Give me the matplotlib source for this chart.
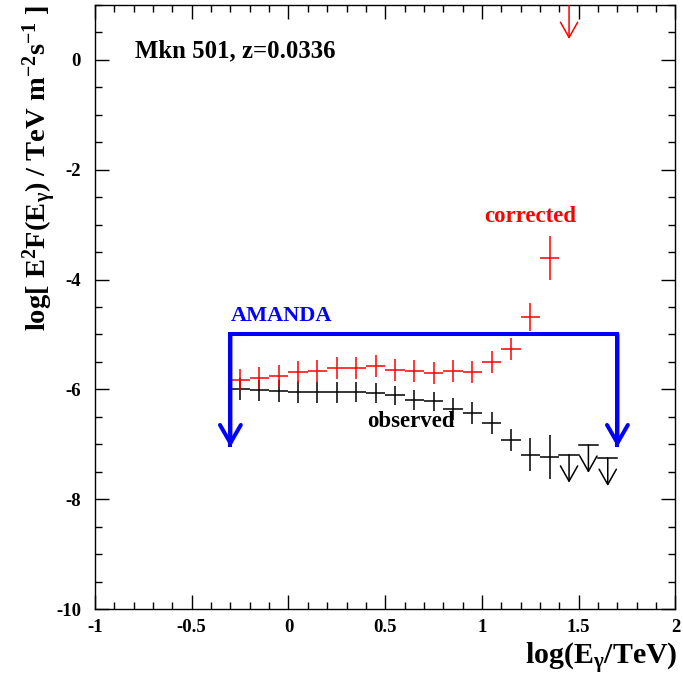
import matplotlib
matplotlib.use("Agg")
import matplotlib.pyplot as plt
from matplotlib.patches import FancyArrowPatch
from matplotlib.ticker import MultipleLocator, FuncFormatter

plt.rcParams["font.family"] = ["Liberation Serif", "DejaVu Serif"]
plt.rcParams["font.weight"] = "bold"
plt.rcParams["mathtext.fontset"] = "custom"
plt.rcParams["mathtext.rm"] = "Liberation Serif:bold"
plt.rcParams["mathtext.it"] = "Liberation Serif:bold"
plt.rcParams["mathtext.bf"] = "Liberation Serif:bold"

# log10(E / TeV) bin centres, bin half-width 0.05
bin_half = 0.05
obs_x = [-0.25, -0.15, -0.05, 0.05, 0.15, 0.25, 0.35, 0.45, 0.55, 0.65,
         0.75, 0.85, 0.95, 1.05, 1.15, 1.25, 1.35]
obs_y = [-6.00, -6.02, -6.03, -6.04, -6.05, -6.05, -6.05, -6.06, -6.11, -6.19,
         -6.22, -6.36, -6.43, -6.61, -6.92, -7.19, -7.23]
obs_err = [0.20, 0.20, 0.20, 0.20, 0.19, 0.19, 0.18, 0.18, 0.18, 0.18,
           0.18, 0.20, 0.20, 0.20, 0.20, 0.30, 0.40]
obs_ul_x = [1.45, 1.55, 1.65]
obs_ul_y = [-7.19, -7.01, -7.25]

corr_x = obs_x
corr_y = [-5.82, -5.80, -5.76, -5.68, -5.66, -5.61, -5.61, -5.58, -5.64, -5.67,
          -5.70, -5.66, -5.68, -5.51, -5.26, -4.68, -3.61]
corr_err = [0.20, 0.20, 0.20, 0.20, 0.20, 0.20, 0.20, 0.20, 0.20, 0.20,
            0.20, 0.20, 0.20, 0.20, 0.20, 0.25, 0.40]
corr_ul_x = [1.45]
corr_ul_y = [1.2]

# AMANDA sensitivity band
amanda_x = [-0.3, 1.7]
amanda_level = -5.0
amanda_arrow_to = -7.05

ul_len_obs = 0.51
ul_len_corr = 0.82

fig = plt.figure(figsize=(6.83, 6.77), dpi=100)
ax = fig.add_axes([0.139, 0.1004, 0.850, 0.8922])
ax.set_xlim(-1, 2)
ax.set_ylim(-10, 1)


def draw_points(xs, ys, errs, color):
    ax.errorbar(xs, ys, xerr=bin_half, yerr=errs, fmt="none",
                ecolor=color, elinewidth=1.1, capsize=0, zorder=3)


def draw_limits(xs, ys, length, color):
    for x, y in zip(xs, ys):
        ax.plot([x - bin_half, x + bin_half], [y, y], color=color,
                lw=1.1, zorder=3)
        arr = FancyArrowPatch((x, y), (x, y - length),
                              arrowstyle="->,head_length=1.1,head_width=0.62",
                              mutation_scale=10, color=color, lw=1.1,
                              shrinkA=0, shrinkB=0, zorder=3)
        ax.add_patch(arr)


draw_points(obs_x, obs_y, obs_err, "black")
draw_limits(obs_ul_x, obs_ul_y, ul_len_obs, "black")
draw_points(corr_x, corr_y, corr_err, "red")
draw_limits(corr_ul_x, corr_ul_y, ul_len_corr, "red")

blue = "#0000ff"
ax.plot([amanda_x[0], amanda_x[0], amanda_x[1], amanda_x[1]],
        [amanda_arrow_to, amanda_level, amanda_level, amanda_arrow_to],
        color=blue, lw=2.9, solid_joinstyle="miter", solid_capstyle="butt",
        zorder=4)
for x in amanda_x:
    ax.add_patch(FancyArrowPatch((x, amanda_level), (x, amanda_arrow_to),
                                 arrowstyle="->,head_length=1.3,head_width=0.75",
                                 mutation_scale=10, color=blue, lw=2.9,
                                 shrinkA=0, shrinkB=0, zorder=4,
                                 joinstyle="miter"))

ax.text(-0.793, 0.16, "Mkn 501, z=0.0336", fontsize=17.8, fontweight="bold",
        ha="left", va="center")
ax.text(-0.296, -4.67, "AMANDA", fontsize=16, fontweight="bold", color=blue,
        ha="left", va="center")
ax.text(1.25, -2.86, "corrected", fontsize=16.5, fontweight="bold", color="red",
        ha="center", va="center")
ax.text(0.632, -6.59, "observed", fontsize=16.5, fontweight="bold", color="black",
        ha="center", va="center")

ax.xaxis.set_major_locator(MultipleLocator(0.5))
ax.xaxis.set_minor_locator(MultipleLocator(0.1))
ax.yaxis.set_major_locator(MultipleLocator(2))
ax.yaxis.set_minor_locator(MultipleLocator(0.5))
ax.tick_params(which="both", direction="in", top=True, right=True,
               width=1.0, labelsize=13.5)
ax.tick_params(which="major", length=10)
ax.tick_params(which="minor", length=5)
ax.tick_params(axis="x", which="major", pad=7)
ax.tick_params(axis="y", which="major", pad=10)
ax.xaxis.set_major_formatter(FuncFormatter(lambda v, p: f"{v:g}"))
ax.yaxis.set_major_formatter(FuncFormatter(lambda v, p: f"{v:g}"))
for lab in ax.get_xticklabels() + ax.get_yticklabels():
    lab.set_fontweight("bold")
for s in ax.spines.values():
    s.set_linewidth(1.0)

ax.set_xlabel(r"log(E$_{\gamma}$/TeV)", fontsize=21.5, fontweight="bold",
              ha="right", va="center")
ax.xaxis.set_label_coords(1.003, -0.082)
ax.set_ylabel(r"log[ E$^{2}$F(E$_{\gamma}$) / TeV m$^{-2}$s$^{-1}$ ]",
              fontsize=20.5, fontweight="bold", ha="right", va="center")
ax.yaxis.set_label_coords(-0.094, 1.0)

fig.savefig("out.png", dpi=100)
